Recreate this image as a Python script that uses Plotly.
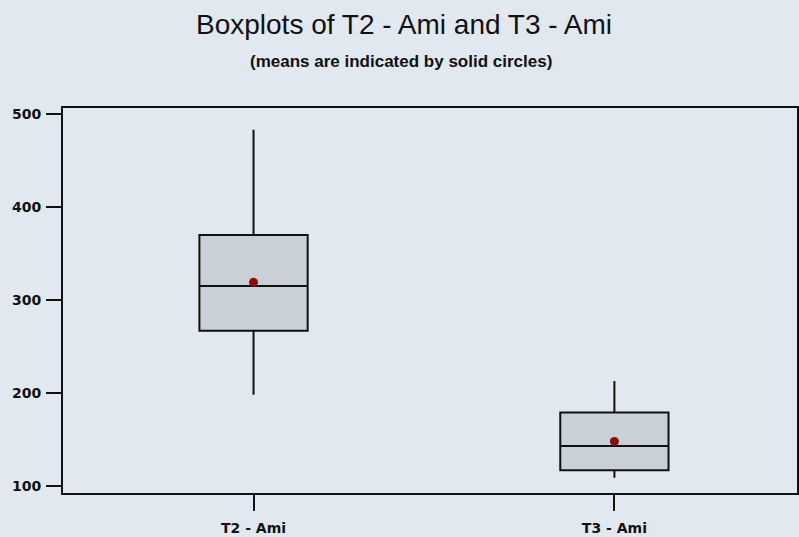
import plotly.graph_objects as go

# Five-number summaries and means for each sample
categories = ["T2 - Ami", "T3 - Ami"]
lower_whisker = [198, 109]
q1_values = [267, 117]
medians = [315, 143]
q3_values = [370, 179]
upper_whisker = [483, 213]
means = [319, 148]

y_ticks = [100, 200, 300, 400, 500]

bg = "#e1e8f0"
box_fill = "#c9d0d8"
tick_font = dict(size=14, family="DejaVu Sans, sans-serif", color="#111111")

fig = go.Figure()

fig.add_trace(go.Box(
    x=categories,
    q1=q1_values,
    median=medians,
    q3=q3_values,
    lowerfence=lower_whisker,
    upperfence=upper_whisker,
    fillcolor=box_fill,
    line=dict(color="#111111", width=2),
    whiskerwidth=0,
    width=0.3,
    boxpoints=False,
    hoverinfo="skip",
    showlegend=False,
))

# Means drawn as solid circles
fig.add_trace(go.Scatter(
    x=categories,
    y=means,
    mode="markers",
    marker=dict(color="#8b0a0a", size=9, symbol="circle"),
    showlegend=False,
    hoverinfo="skip",
))

fig.update_layout(
    width=799,
    height=537,
    paper_bgcolor=bg,
    plot_bgcolor=bg,
    margin=dict(l=63, r=0, t=108, b=44),
    font=dict(family="Liberation Sans, Arial, sans-serif", color="#111111"),
    annotations=[
        dict(text="Boxplots of T2 - Ami and T3 - Ami", xref="paper", yref="paper",
             x=(405 - 63) / 736, y=1, xanchor="center", yanchor="middle",
             yshift=108 - 24, showarrow=False,
             font=dict(size=28, color="#111111")),
        dict(text="<b>(means are indicated by solid circles)</b>", xref="paper", yref="paper",
             x=(402 - 63) / 736, y=1, xanchor="center", yanchor="middle",
             yshift=108 - 61, showarrow=False,
             font=dict(size=17, color="#111111")),
    ],
)

fig.update_xaxes(
    type="category",
    range=[-0.528, 1.506],
    showline=True, linecolor="#111111", linewidth=2, mirror=True,
    ticks="outside", ticklen=16, tickwidth=2, tickcolor="#111111",
    ticklabelstandoff=5,
    showgrid=False, zeroline=False,
    tickfont=tick_font,
    tickvals=categories,
    ticktext=[f"<b>{c}</b>" for c in categories],
    fixedrange=True,
)

fig.update_yaxes(
    range=[92.5, 506.4],
    showline=True, linecolor="#111111", linewidth=2, mirror=True,
    ticks="outside", ticklen=15, tickwidth=2, tickcolor="#111111",
    ticklabelstandoff=2,
    showgrid=False, zeroline=False,
    tickvals=y_ticks,
    ticktext=[f"<b>{v}</b>" for v in y_ticks],
    tickfont=tick_font,
    fixedrange=True,
)

fig.write_html("out.html")
